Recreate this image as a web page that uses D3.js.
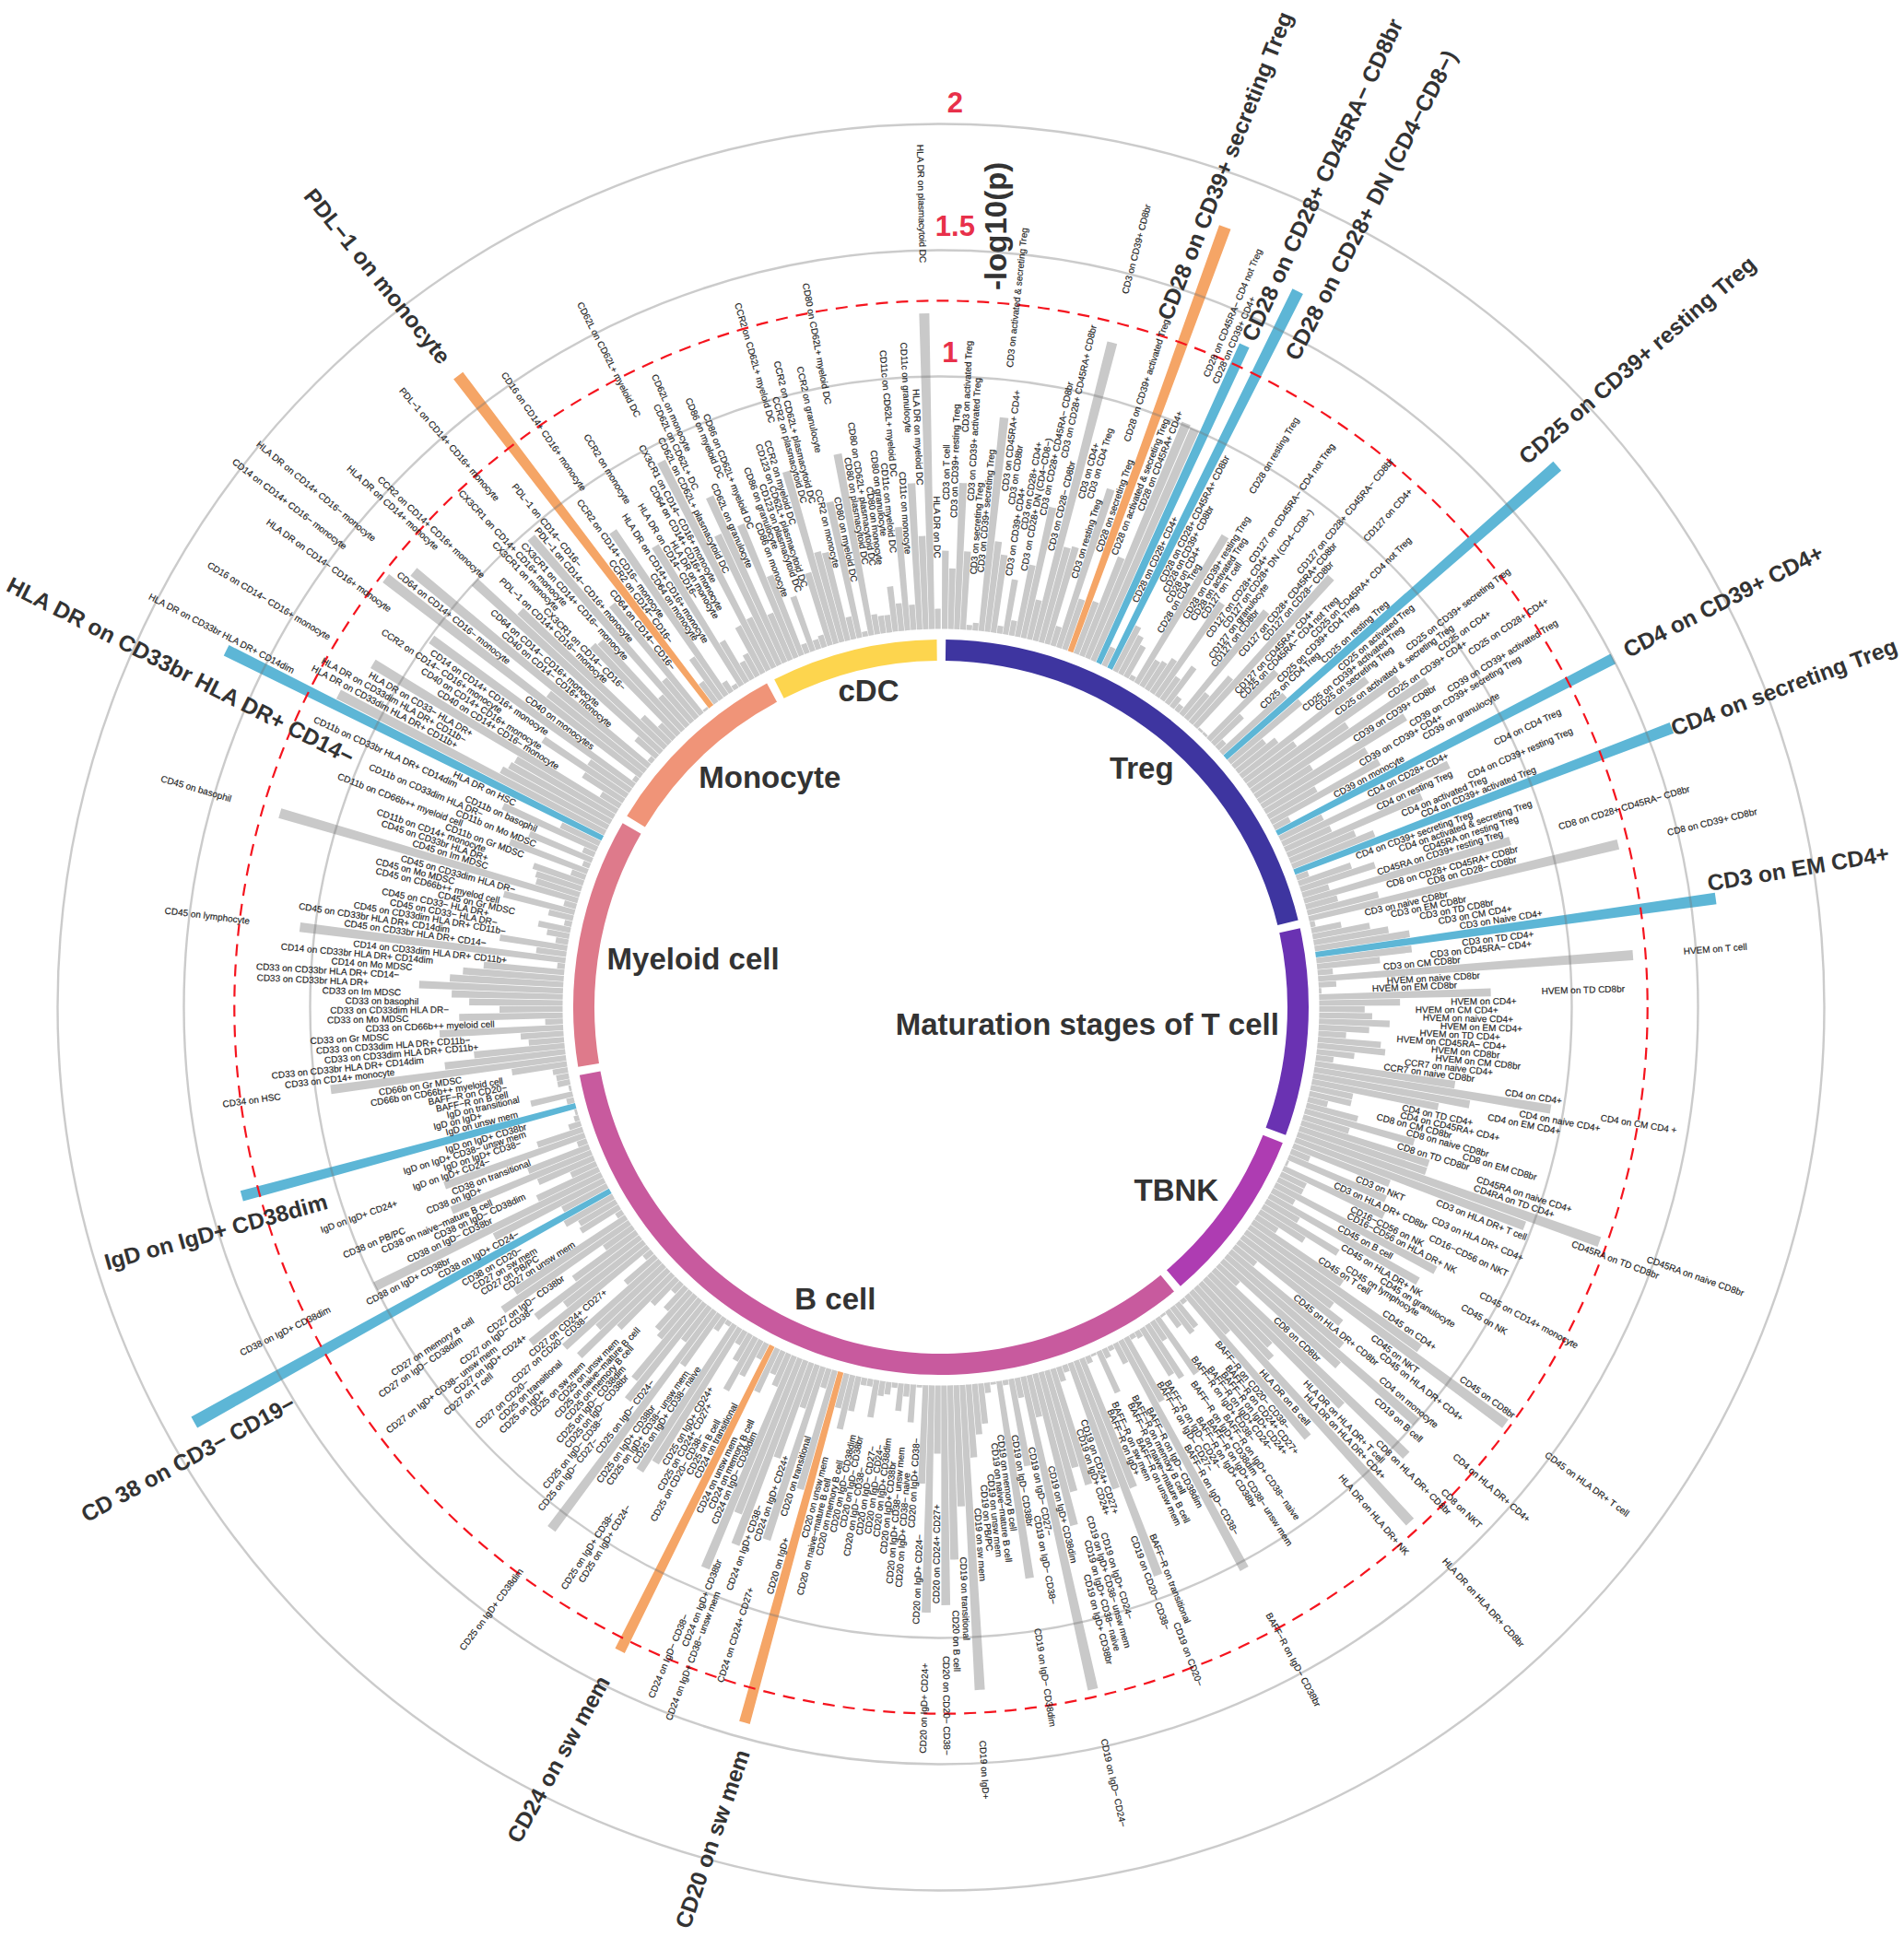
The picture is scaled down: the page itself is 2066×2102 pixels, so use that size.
<!DOCTYPE html>
<html><head><meta charset="utf-8">
<script src="https://cdn.jsdelivr.net/npm/d3@7/dist/d3.min.js"></script>
<style>html,body{margin:0;padding:0;background:#fff}svg{display:block}text{font-family:"Liberation Sans",Arial,sans-serif}</style>
</head><body><svg id="c" width="2066" height="2102"></svg>
<script>
const sectorNames=["Treg","Maturation stages of T cell","TBNK","B cell","Myeloid cell","Monocyte","cDC"];
const tregNames=["CD3 on T cell","CD3 on CD39+ resting Treg","CD3 on activated Treg","CD3 on CD39+ activated Treg","CD3 on secreting Treg","CD3 on CD39+ secreting Treg","CD3 on activated & secreting Treg","CD3 on CD45RA+ CD4+","CD3 on CD8br","CD3 on CD39+ CD4+","CD3 on CD28+ CD4+","CD3 on CD28+ DN (CD4−CD8−)","CD3 on CD28+ CD45RA− CD8br","CD3 on CD28+ CD45RA+ CD8br","CD3 on CD28− CD8br","CD3 on CD39+ CD8br","CD3 on CD4+","CD3 on CD4 Treg","CD3 on resting Treg","CD28 on CD39+ activated Treg","CD28 on secreting Treg","CD28 on CD39+ secreting Treg","CD28 on activated & secreting Treg","CD28 on CD45RA+ CD4+","CD28 on CD45RA− CD4 not Treg","CD28 on CD39+ CD4+","CD28 on CD28+ CD45RA− CD8br","CD28 on CD28+ CD4+","CD28 on CD28+ DN (CD4−CD8−)","CD28 on CD28+ CD45RA+ CD8br","CD28 on CD39+ CD8br","CD28 on CD4+","CD28 on CD4 Treg","CD28 on resting Treg","CD28 on CD39+ resting Treg","CD28 on activated Treg","CD127 on T cell","CD127 on CD45RA− CD4 not Treg","CD127 on CD28+ CD4+","CD127 on CD28+ DN (CD4−CD8−)","CD127 on granulocyte","CD127 on CD8br","CD127 on CD28+ CD45RA− CD8br","CD127 on CD28+ CD45RA+ CD8br","CD127 on CD28− CD8br","CD127 on CD4+","CD127 on CD45RA+ CD4+","CD25 on CD45RA− CD4 not Treg","CD25 on CD45RA+ CD4 not Treg","CD25 on CD39+ CD4 Treg","CD25 on CD4 Treg","CD25 on resting Treg","CD25 on CD39+ resting Treg","CD25 on activated Treg","CD25 on CD39+ activated Treg","CD25 on secreting Treg","CD25 on CD39+ secreting Treg","CD25 on activated & secreting Treg","CD25 on CD4+","CD25 on CD39+ CD4+","CD25 on CD28+ CD4+","CD39 on CD39+ CD8br","CD39 on CD39+ activated Treg","CD39 on CD39+ secreting Treg","CD39 on CD39+ CD4+","CD39 on granulocyte","CD39 on monocyte","CD4 on CD39+ CD4+","CD4 on CD28+ CD4+","CD4 on CD4 Treg","CD4 on resting Treg","CD4 on CD39+ resting Treg","CD4 on activated Treg","CD4 on CD39+ activated Treg","CD4 on secreting Treg","CD4 on CD39+ secreting Treg","CD4 on activated & secreting Treg","CD45RA on resting Treg","CD45RA on CD39+ resting Treg","CD8 on CD28+ CD45RA− CD8br","CD8 on CD28+ CD45RA+ CD8br","CD8 on CD28− CD8br","CD8 on CD39+ CD8br"];
const tregValues=[.31,.24,.58,.31,.02,.03,.85,.36,.31,.03,.22,.06,.29,.53,.16,1.22,.39,.40,.08,.66,.21,1.79,.22,.42,1.01,1.0,1.385,.08,1.67,.20,.17,.14,.02,.68,.12,.13,.16,.45,.11,.18,.05,.03,.53,.13,.24,.80,.01,.01,.38,.16,.04,.34,1.75,.37,.16,.20,.63,.25,.73,.46,.82,.25,.67,.47,.22,.49,.07,1.5,.19,.73,.20,.58,.28,.35,1.6,.05,.22,.31,.11,.85,.13,.29,1.26];
const matNames=["CD3 on naive CD8br","CD3 on EM CD8br","CD3 on TD CD8br","CD3 on CM CD4+","CD3 on Naive CD4+","CD3 on EM CD4+","CD3 on TD CD4+","CD3 on CD45RA− CD4+","CD3 on CM CD8br","HVEM on T cell","HVEM on naive CD8br","HVEM on EM CD8br","HVEM on TD CD8br","HVEM on CD4+","HVEM on CM CD4+","HVEM on naive CD4+","HVEM on EM CD4+","HVEM on TD CD4+","HVEM on CD45RA− CD4+","HVEM on CD8br","HVEM on CM CD8br","CCR7 on naive CD4+","CCR7 on naive CD8br","CD4 on CD4+","CD4 on CM CD4 +","CD4 on naive CD4+","CD4 on EM CD4+","CD4 on TD CD4+","CD4 on CD45RA+ CD4+","CD8 on CM CD8br","CD8 on naive CD8br","CD8 on EM CD8br","CD8 on TD CD8br","CD45RA on naive CD4+","CD4RA on TD CD4+","CD45RA on naive CD8br","CD45RA on TD CD8br"];
const matValues=[.02,.12,.23,.30,.38,1.6,.38,.25,.06,1.25,.07,.01,.68,.32,.18,.21,.28,.20,.11,.25,.27,.15,.07,.56,.95,.63,.51,.17,.17,.08,.21,.45,.19,.53,.53,1.27,.97];
const tbnkNames=["CD3 on HLA DR+ T cell","CD3 on NKT","CD3 on HLA DR+ CD4+","CD3 on HLA DR+ CD8br","CD16−CD56 on NKT","CD16−CD56 on NK","CD16−CD56 on HLA DR+ NK","CD45 on CD14+ monocyte","CD45 on B cell","CD45 on NK","CD45 on HLA DR+ NK","CD45 on granulocyte","CD45 on lymphocyte ","CD45 on T cell","CD45 on CD4+","CD45 on CD8br","CD45 on HLA DR+ T cell","CD45 on NKT","CD45 on HLA DR+ CD4+","CD45 on HLA DR+ CD8br","CD4 on monocyte","CD4 on HLA DR+ CD4+","CD19 on B cell","CD8 on  CD8br","CD8 on NKT","CD8 on HLA DR+ CD8br","HLA DR on  HLA DR+ T cell","HLA DR on HLA DR+ CD4+","HLA DR on  HLA DR+ CD8br","HLA DR on B cell","HLA DR on HLA DR+ NK"];
const tbnkValues=[.41,.08,.42,.01,.44,.11,.11,.72,.10,.68,.15,.35,.21,.10,.43,.83,1.28,.45,.52,.11,.58,1.0,.62,.11,1.06,.74,.37,.41,1.26,.22,.74];
const bcellNames=["BAFF−R on CD20− CD38−","BAFF−R on CD24+ CD27+","BAFF−R on IgD+ CD24+","BAFF−R on IgD+ CD24−","BAFF−R on IgD+ CD38−","BAFF−R on IgD+ CD38− naive","BAFF−R on IgD+ CD38dim","BAFF−R on IgD+ CD38− unsw mem","BAFF−R on IgD+ CD38br","BAFF−R on IgD− CD24−","BAFF−R on IgD− CD27−","BAFF−R on IgD− CD38−","BAFF−R on IgD− CD38br","BAFF−R on IgD− CD38dim","BAFF−R on memory B cell","BAFF−R on naive−mature B cell","BAFF−R on unsw mem","BAFF−R on sw mem","BAFF−R on IgD+","BAFF−R on transitional","CD19 on CD20−","CD19 on CD20− CD38−","CD19 on CD24+ CD27+","CD19 on IgD+ CD24+","CD19 on IgD+ CD24−","CD19 on IgD+ CD38−  unsw mem","CD19 on IgD+ CD38− naive","CD19 on IgD+ CD38br","CD19 on IgD+ CD38dim","CD19 on IgD− CD24−","CD19 on IgD− CD27−","CD19 on IgD− CD38−","CD19 on IgD− CD38br","CD19 on IgD− CD38dim","CD19 on memory B cell","CD19 on naive−mature B cell","CD19 on unsw mem","CD19 on PB/PC","CD19 on sw mem","CD19 on IgD+","CD19 on transitional","CD20 on B cell","CD20 on CD20− CD38−","CD20 on CD24+ CD27+","CD20 on IgD+ CD24+","CD20 on IgD+ CD24−","CD20 on IgD+ CD38−","CD20 on IgD+ CD38− naive","CD20 on IgD+ CD38− unsw mem","CD20 on IgD+ CD38br","CD20 on IgD+ CD38dim","CD20 on IgD− CD24−","CD20 on IgD− CD27−","CD20 on IgD− CD38−","CD20 on IgD− CD38br","CD20 on IgD− CD38dim","CD20 on memory B cell","CD20 on naive−mature B cell","CD20 on unsw mem","CD20 on sw mem","CD20 on IgD+","CD20 on transitional","CD24 on CD24+ CD27+","CD24 on IgD+ CD24+","CD24 on IgD+ CD38−","CD24 on IgD+ CD38− unsw mem","CD24 on IgD+ CD38br","CD24 on IgD− CD38−","CD24 on IgD− CD38dim","CD24 on memory B cell","CD24 on unsw mem","CD24 on sw mem","CD24 on transitional","CD25 on B cell","CD25 on CD20− CD38−","CD25 on CD24+ CD27+","CD25 on IgD+ CD24+","CD25 on IgD+ CD24−","CD25 on IgD+ CD38−","CD25 on IgD+ CD38− naive","CD25 on IgD+ CD38− unsw mem","CD25 on IgD+ CD38br","CD25 on IgD+ CD38dim","CD25 on IgD− CD24−","CD25 on IgD− CD27−","CD25 on IgD− CD38−","CD25 on IgD− CD38br","CD25 on IgD− CD38dim","CD25 on memory B cell","CD25 on naive−mature B cell","CD25 on unsw mem","CD25 on sw mem","CD25 on IgD+","CD25 on transitional","CD27 on CD20−","CD27 on CD20− CD38−","CD27 on CD24+ CD27+","CD27 on T cell","CD27 on IgD+ CD24+","CD27 on IgD+ CD38− unsw mem","CD27 on IgD− CD38−","CD27 on IgD− CD38br","CD27 on IgD− CD38dim","CD27 on memory B cell","CD27 on unsw mem","CD27 on PB/PC","CD27 on sw mem","CD38 on CD20−","CD 38 on CD3− CD19−","CD38 on IgD+ CD24−","CD38 on IgD+ CD38br","CD38 on IgD+ CD38dim","CD38 on IgD− CD38br","CD38 on IgD− CD38dim","CD38 on naive−mature B cell","CD38 on PB/PC","CD38 on IgD+","CD38 on transitional","IgD on IgD+ CD24+","IgD on IgD+ CD24−","IgD on IgD+ CD38−","IgD on IgD+ CD38− unsw mem","IgD on IgD+ CD38br","IgD on IgD+ CD38dim","IgD on unsw mem","IgD on IgD+","IgD on transitional","BAFF−R on B cell","BAFF−R on CD20−"];
const bcellValues=[.02,.12,.13,.08,.01,.27,.09,.25,.22,.03,.02,.29,1.03,.09,.02,.04,.18,.01,.03,.55,.91,.53,.03,.06,.48,.40,.49,.62,.17,1.27,.08,.35,.02,.79,.01,.04,.16,.20,.29,1.21,.48,.69,.87,.27,.90,.39,.01,.15,.05,.11,.02,.05,.06,.15,.03,.03,.14,.22,.14,1.44,.49,.08,.72,.18,.40,.78,.66,.91,.14,.10,.19,1.35,.07,.16,.24,.12,.06,.63,.69,.02,.06,.25,1.08,.17,.49,.41,.22,.20,.12,.05,.14,.30,.49,.36,.51,.16,.04,.60,.40,.52,.31,.14,.61,.53,.03,.18,.17,.22,1.885,.20,.49,1.0,.27,.11,.24,.60,.26,.04,.59,.19,.05,.02,.01,1.37,.03,.17,.01,.05,.05];
const myeloidNames=["CD66b on CD66b++ myeloid cell","CD66b on Gr MDSC","CD34 on HSC","CD33 on CD14+ monocyte","CD33 on CD33br HLA DR+ CD14dim","CD33 on CD33dim HLA DR+ CD11b+","CD33 on CD33dim HLA DR+ CD11b−","CD33 on Gr MDSC","CD33 on CD66b++ myeloid cell","CD33 on Mo MDSC","CD33 on CD33dim HLA DR−","CD33 on basophil","CD33 on Im MDSC","CD33 on CD33br HLA DR+","CD33 on CD33br HLA DR+ CD14−","CD14 on Mo MDSC","CD14 on CD33br HLA DR+ CD14dim","CD14  on CD33dim HLA DR+ CD11b+","CD45 on lymphocyte","CD45 on CD33br HLA DR+ CD14−","CD45 on CD33br HLA DR+ CD14dim","CD45 on CD33dim HLA DR+ CD11b−","CD45 on CD33− HLA DR−","CD45 on CD33− HLA DR+","CD45 on Gr MDSC","CD45 on CD66b++ myelod cell","CD45 on Mo MDSC","CD45 on CD33dim HLA DR−","CD45 on basophil","CD45 on Im MDSC","CD45 on CD33br HLA DR+","CD11b on CD14+ monocyte","CD11b on Gr MDSC","CD11b on CD66b++ myeloid cell","CD11b on Mo MDSC","CD11b on CD33dim HLA DR−","CD11b on basophil","CD11b on CD33br HLA DR+ CD14dim","HLA DR on HSC","HLA DR on CD33br HLA DR+ CD14−","HLA DR on CD33br HLA DR+ CD14dim","HLA DR on CD33dim HLA DR+ CD11b+","HLA DR on CD33dim HLA DR+ CD11b−","HLA DR on CD33− HLA DR+"];
const myeloidValues=[.06,.22,.94,.48,.36,.14,.17,.49,.07,.41,.25,.37,.44,.57,.45,.40,.32,.03,1.06,.12,.27,.05,.09,.13,.03,.10,.29,.05,1.23,.18,.19,.21,.06,.33,.03,.27,.05,.41,.17,1.665,1.19,.48,.46,.45];
const monocyteNames=["CD16 on CD14− CD16+ monocyte","CD40 on CD14+ CD16− monocyte","CD40 on CD14+ CD16+ monocyte","CCR2 on CD14− CD16+ monocyte","CD14 on CD14+ CD16+  monocyte","HLA DR on CD14− CD16+ monocyte","CD40 on monocytes","CD14 on CD14+ CD16− monocyte","CD64 on CD14+ CD16− monocyte","HLA DR on CD14+ CD16− monocyte","CD40 on CD14− CD16+ monocyte","CD64 on CD14− CD16+ monocyte","HLA DR on CD14+ monocyte","CCR2 on CD14+ CD16+ monocyte","PDL−1 on CD14+ CD16− monocyte","CX3CR1 on CD14− CD16−","CX3CR1 on monocyte","CX3CR1 on CD14+ CD16+ monocyte","CX3CR1 on CD14+ CD16− monocyte","PDL−1 on CD14+ CD16+ monocyte","PDL−1 on CD14− CD16+ monocyte","PDL−1 on CD14− CD16−","CD64 on CD14− CD16−","PDL−1 on monocyte","CCR2 on CD14− CD16−","CCR2 on CD14+ CD16− monocyte","CD16 on CD14+ CD16+ monocyte","CD64 on monocyte","HLA DR on CD14+ CD16+ monocyte","CCR2 on monocyte","HLA DR on CD14− CD16−","HLA DR on monocyte","CD64 on CD14+ CD16+ monocyte","CX3CR1 on CD14− CD16+ monocyte"];
const monocyteValues=[1.13,.09,.19,.40,.20,.99,.02,1.28,.49,1.21,.02,.11,1.0,.79,.15,.08,.49,.48,.16,.97,.20,.56,.01,1.65,.10,.20,.79,.05,.02,.65,.19,.08,.10,.21];
const cdcNames=["CD62L on CD62L+ myeloid DC","CD62L on CD62L+ plasmacytoid DC","CD62L on CD62L+ DC","CD62L on monocyte","CD62L on granulocyte","CD86 on myeloid DC","CD86 on CD62L+ myeloid DC","CD86 on monocyte","CD86 on granulocyte","CD123 on plasmacytoid DC","CD123 on CD62L+ plasmacytoid DC","CCR2 on myeloid DC","CCR2 on CD62L+ myeloid DC","CCR2 on plasmacytoid DC","CCR2 on CD62L+ plasmacytoid DC","CCR2 on monocyte ","CCR2 on granulocyte","CD80 on myeloid DC","CD80 on CD62L+ myeloid DC","CD80 on plasmacytoid DC","CD80 on CD62L+ plasmacytoid DC","CD80 on monocyte","CD80 on granulocyte","CD11c on myeloid DC","CD11c on CD62L+ myeloid DC","CD11c on monocyte","CD11c on granulocyte","HLA DR on myeloid DC","HLA DR on plasmacytoid DC","HLA DR on DC"];
const cdcValues=[.93,.22,.57,.72,.20,.57,.34,.04,.23,.04,.05,.30,.71,.37,.36,.09,.55,.02,.73,.08,.07,.07,.18,.11,.41,.10,.58,.37,1.25,.08];
const orangeMarkers=["CD28 on CD39+ secreting Treg","PDL−1 on monocyte","CD24 on sw mem","CD20 on sw mem"];
const blueMarkers=["CD28 on CD28+ CD45RA− CD8br","CD28 on CD28+ DN (CD4−CD8−)","CD25 on CD39+ resting Treg","CD4 on CD39+ CD4+","CD4 on secreting Treg","CD3 on EM CD4+","CD 38 on CD3− CD19−","IgD on IgD+ CD38dim","HLA DR on CD33br HLA DR+ CD14−"];
const gridTicks=[1,1.5,2];
const threshold=1.3;

// layout (not data)
const cx=1021,cy=1093,K=2066/1541;
const sectorBounds=[[0.1,76.95],[76.95,111],[111,140],[140,260],[260,300.7],[300.7,332.4],[332.4,360]];
const sectorColors=["#3e35a0","#6a32b2","#ae3cb2","#c85a9e","#de7a8b","#f09478","#fdd54e"];
const sectorLabelAt=[[924,622],[880,829],[952,963],[676,1051],[561,776],[623,629],[703,559]];
const bigLabelAt=[
 ["CD28 on CD39+ secreting Treg",942,258,1043,5],["CD28 on CD28+ CD45RA− CD8br",1010,275,1133,10],["CD28 on CD28+ DN (CD4−CD8−)",1045,290,1178,35],
 ["CD25 on CD39+ resting Treg",1232,372,1425,205],["CD4 on CD39+ CD4+",1315,527,1480,443],["CD4 on secreting Treg",1353,590,1535,522],["CD3 on EM CD4+",1382,715,1532,690],
 ["HLA DR on CD33br HLA DR+ CD14−",7,472,288,615],["PDL−1 on monocyte",250,155,365,297],["IgD on IgD+ CD38dim",85,1022,272,970],["CD 38 on CD3− CD19−",67,1227,232,1137],["CD24 on sw mem",415,1490,492,1352],["CD20 on sw mem",552,1560,600,1420]];
const rad=d=>d*Math.PI/180;
const r=d3.scaleLinear().domain([0,2]).range([410.5,958.5]);
const svg=d3.select("#c"),g=svg.append("g").attr("transform",`translate(${cx},${cy})`);
const groups=[[tregNames,tregValues],[matNames,matValues],[tbnkNames,tbnkValues],[bcellNames,bcellValues],[myeloidNames,myeloidValues],[monocyteNames,monocyteValues],[cdcNames,cdcValues]];
const bars=[];
groups.forEach(([names,vals],s)=>{
  const band=d3.scaleBand().domain(d3.range(names.length)).range(sectorBounds[s]);
  names.forEach((n,i)=>bars.push({name:n,value:vals[i],a0:band(i),a1:band(i)+band.bandwidth()}));
});
const arc=d3.arc();
const colorOf=d=>orangeMarkers.includes(d.name)?"#f5a566":blueMarkers.includes(d.name)?"#5db6d6":"#c9c9c9";
const isMarked=d=>orangeMarkers.includes(d.name)||blueMarkers.includes(d.name);
g.selectAll("path.bar").data(bars).join("path").attr("class","bar")
 .attr("d",d=>arc({innerRadius:r(0),outerRadius:r(d.value),startAngle:rad(d.a0+.04),endAngle:rad(d.a1-.04)}))
 .attr("fill",colorOf);
g.selectAll("path.sec").data(sectorBounds).join("path").attr("class","sec")
 .attr("d",d=>arc({innerRadius:376,outerRadius:399,startAngle:rad(d[0]+.65),endAngle:rad(d[1]-.65)}))
 .attr("fill",(d,i)=>sectorColors[i]);
g.selectAll("circle.grid").data(gridTicks).join("circle").attr("class","grid").attr("r",d=>r(d))
 .attr("fill","none").attr("stroke","#777").attr("stroke-opacity",.38).attr("stroke-width",2.4);
g.append("circle").attr("r",r(threshold)).attr("fill","none").attr("stroke","#f5141e").attr("stroke-width",2.2).attr("stroke-dasharray","13 9");
g.selectAll("text.lab").data(bars.filter(d=>!isMarked(d))).join("text").attr("class","lab")
 .attr("font-size",10).attr("fill","#222").attr("stroke","#222").attr("stroke-width",.15).attr("dy",".35em")
 .attr("text-anchor",d=>(d.a0+d.a1)/2<180?"start":"end")
 .attr("transform",d=>{const a=(d.a0+d.a1)/2,R=r(d.value)+55;return a<180?`rotate(${a-90}) translate(${R},0)`:`rotate(${a-90}) translate(${R},0) rotate(180)`;})
 .text(d=>d.name);
svg.selectAll("text.sl").data(sectorNames).join("text").attr("class","sl")
 .attr("x",(d,i)=>sectorLabelAt[i][0]*K).attr("y",(d,i)=>sectorLabelAt[i][1]*K).attr("dy",".35em").attr("text-anchor","middle")
 .attr("font-size",33).attr("font-weight","bold").attr("fill","#333").text(d=>d);
svg.selectAll("text.big").data(bigLabelAt).join("text").attr("class","big")
 .attr("font-size",24.5).attr("font-weight","bold").attr("fill","#333").attr("dy",".35em")
 .attr("transform",d=>`translate(${d[1]*K},${d[2]*K}) rotate(${Math.atan2(d[4]-d[2],d[3]-d[1])*180/Math.PI})`)
 .text(d=>d[0]);
const tickAt=[[769,285],[773,183],[773,83]];
svg.selectAll("text.tk").data(gridTicks).join("text").attr("class","tk")
 .attr("x",(d,i)=>tickAt[i][0]*K).attr("y",(d,i)=>tickAt[i][1]*K).attr("dy",".35em").attr("text-anchor","middle")
 .attr("font-size",31).attr("font-weight","bold").attr("fill","#e8304a").text(d=>d);
svg.append("text").attr("transform",`translate(${806*K},${183*K}) rotate(-90)`).attr("text-anchor","middle").attr("dy",".35em")
 .attr("font-size",33).attr("font-weight","bold").attr("fill","#333").text("-log10(p)");
</script></body></html>
